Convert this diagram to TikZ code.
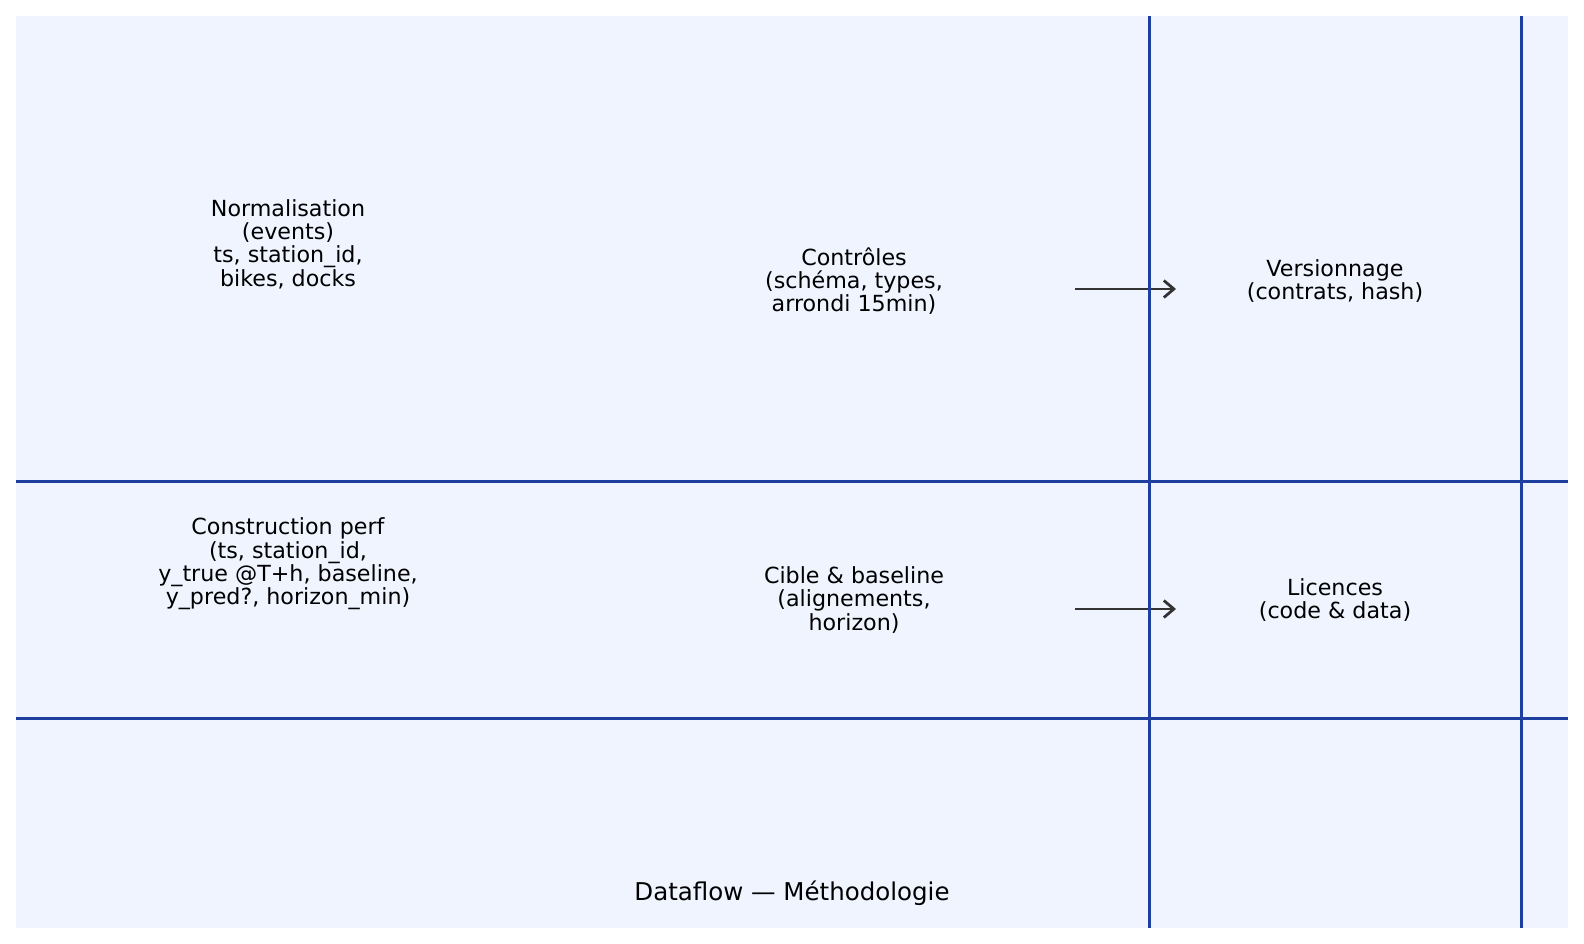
\documentclass[tikz,border=0pt]{standalone}
\usepackage{fontspec}
\setmainfont{DejaVu Sans}
\usetikzlibrary{arrows.meta}

\tikzset{
  steptext/.style={align=center, text=black, inner sep=0pt, font=\fontsize{22.2}{23.4}\selectfont},
  gridline/.style={draw=gridcolor, line width=3pt},
  flowarrow/.style={draw=arrowcolor, line width=2.8pt, -{Straight Barb[length=10pt, width=17pt, line width=2.8pt]}}
}

\begin{document}
\begin{tikzpicture}[x=1pt, y=-1pt]
            % Define the colors
            \definecolor{panelcolor}{RGB}{239, 244, 255}
            \definecolor{gridcolor}{RGB}{30, 62, 160}
            \definecolor{arrowcolor}{RGB}{51, 51, 51}

            % Fix the page size
            \useasboundingbox[fill=white] (0,0) rectangle (1584,944);

            % Draw the background panel
            \fill[panelcolor] (16,16) rectangle (1568,928);

            % Upper row
            \node[steptext] (norm) at (288,244) {Normalisation\\(events)\\ts, station\_id,\\bikes, docks};
            \node[steptext] (ctrl) at (854,281) {Contrôles\\(schéma, types,\\arrondi 15min)};
            \node[steptext] (vers) at (1335,281) {Versionnage\\(contrats, hash)};

            % Lower row
            \node[steptext] (perf) at (288,564) {Construction perf\\(ts, station\_id,\\y\_true @T+h, baseline,\\y\_pred?, horizon\_min)};
            \node[steptext] (cible) at (854,600) {Cible \& baseline\\(alignements,\\horizon)};
            \node[steptext] (lic) at (1335,600) {Licences\\(code \& data)};

            % Draw the arrows
            \coordinate (ctrlout) at (1075,289);
            \coordinate (versin) at (1176,289);
            \coordinate (cibleout) at (1075,609);
            \coordinate (licin) at (1176,609);
            \draw[flowarrow] (ctrlout) -- (versin);
            \draw[flowarrow] (cibleout) -- (licin);

            % Draw the grid lines
            \draw[gridline] (16,481) -- (1568,481);
            \draw[gridline] (16,718) -- (1568,718);
            \draw[gridline] (1149,16) -- (1149,928);
            \draw[gridline] (1521,16) -- (1521,928);

            % Title
            \node[steptext, font=\fontsize{24.5}{28}\selectfont] (title) at (792,893) {Dataflow — Méthodologie};

\end{tikzpicture}
\end{document}
